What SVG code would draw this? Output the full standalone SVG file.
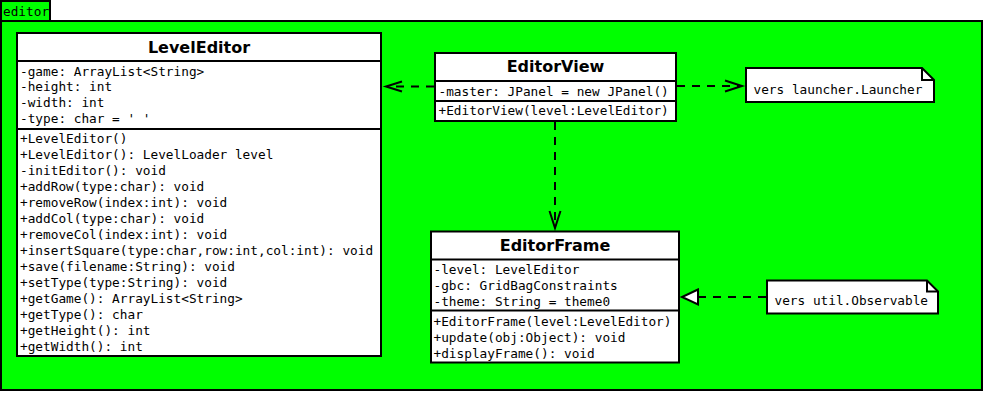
<svg xmlns="http://www.w3.org/2000/svg" width="985" height="393" viewBox="0 0 985 393">
  <style>
    .pkg { fill: #00ff00; stroke: #000; stroke-width: 2; }
    .box { fill: #fff; stroke: #000; stroke-width: 2; }
    .sep { stroke: #000; stroke-width: 2; }
    .title { font-family: "DejaVu Sans", "Liberation Sans", sans-serif; font-weight: bold; font-size: 16px; text-anchor: middle; fill: #000; }
    .mem { font-family: "DejaVu Sans Mono", "Liberation Mono", monospace; font-size: 12.75px; fill: #000; }
    .dash { fill: none; stroke: #000; stroke-width: 2; stroke-dasharray: 8 7; }
    .head { fill: none; stroke: #000; stroke-width: 2; stroke-linejoin: miter; }
    .tri { fill: #fff; stroke: #000; stroke-width: 2; }
  </style>

  <!-- package "editor" -->
  <g id="pkg-editor">
    <rect class="pkg" x="1" y="1" width="49" height="20"/>
    <text class="mem" x="3" y="16" font-size="12.5">editor</text>
    <rect class="pkg" x="1" y="21" width="981" height="369"/>
  </g>

  <!-- class LevelEditor -->
  <g id="LevelEditor">
    <rect class="box" x="17" y="33" width="364" height="323"/>
    <line class="sep" x1="17" y1="61" x2="381" y2="61"/>
    <line class="sep" x1="17" y1="129" x2="381" y2="129"/>
    <text class="title" x="199" y="52.5">LevelEditor</text>
    <text class="mem" x="20" y="75.5">-game: ArrayList&lt;String&gt;</text>
    <text class="mem" x="20" y="91.2">-height: int</text>
    <text class="mem" x="20" y="106.9">-width: int</text>
    <text class="mem" x="20" y="122.7">-type: char = ' '</text>
    <text class="mem" x="20" y="142.8">+LevelEditor()</text>
    <text class="mem" x="20" y="158.8">+LevelEditor(): LevelLoader level</text>
    <text class="mem" x="20" y="174.8">-initEditor(): void</text>
    <text class="mem" x="20" y="190.8">+addRow(type:char): void</text>
    <text class="mem" x="20" y="206.8">+removeRow(index:int): void</text>
    <text class="mem" x="20" y="222.8">+addCol(type:char): void</text>
    <text class="mem" x="20" y="238.8">+removeCol(index:int): void</text>
    <text class="mem" x="20" y="254.8">+insertSquare(type:char,row:int,col:int): void</text>
    <text class="mem" x="20" y="270.8">+save(filename:String): void</text>
    <text class="mem" x="20" y="286.8">+setType(type:String): void</text>
    <text class="mem" x="20" y="302.8">+getGame(): ArrayList&lt;String&gt;</text>
    <text class="mem" x="20" y="318.8">+getType(): char</text>
    <text class="mem" x="20" y="334.8">+getHeight(): int</text>
    <text class="mem" x="20" y="350.8">+getWidth(): int</text>
  </g>

  <!-- class EditorView -->
  <g id="EditorView">
    <rect class="box" x="435" y="53" width="241" height="68"/>
    <line class="sep" x1="435" y1="81" x2="676" y2="81"/>
    <line class="sep" x1="435" y1="101" x2="676" y2="101"/>
    <text class="title" x="555.5" y="72">EditorView</text>
    <text class="mem" x="438.5" y="95.5">-master: JPanel = new JPanel()</text>
    <text class="mem" x="438.5" y="115.2">+EditorView(level:LevelEditor)</text>
  </g>

  <!-- class EditorFrame -->
  <g id="EditorFrame">
    <rect class="box" x="431" y="231.5" width="248" height="131"/>
    <line class="sep" x1="431" y1="259.5" x2="679" y2="259.5"/>
    <line class="sep" x1="431" y1="310.5" x2="679" y2="310.5"/>
    <text class="title" x="555" y="250.8">EditorFrame</text>
    <text class="mem" x="433.5" y="273.8">-level: LevelEditor</text>
    <text class="mem" x="433.5" y="289.6">-gbc: GridBagConstraints</text>
    <text class="mem" x="433.5" y="305.6">-theme: String = theme0</text>
    <text class="mem" x="433.5" y="326.2">+EditorFrame(level:LevelEditor)</text>
    <text class="mem" x="433.5" y="342.2">+update(obj:Object): void</text>
    <text class="mem" x="433.5" y="358.2">+displayFrame(): void</text>
  </g>

  <!-- note: launcher -->
  <g id="note-launcher">
    <path class="box" d="M746,68 H922 L934,80 V102 H746 Z"/>
    <path class="head" d="M922,68 V80 H934"/>
    <text class="mem" x="753.5" y="93.5">vers launcher.Launcher</text>
  </g>

  <!-- note: observable -->
  <g id="note-observable">
    <path class="box" d="M767,280.5 H927 L938,291.5 V313.5 H767 Z"/>
    <path class="head" d="M927,280.5 V291.5 H938"/>
    <text class="mem" x="774.5" y="305.2">vers util.Observable</text>
  </g>

  <!-- connectors -->
  <g id="connectors">
    <!-- EditorView uses LevelEditor -->
    <line class="dash" x1="434" y1="86.5" x2="387" y2="86.5"/>
    <path class="head" d="M402,81.5 L386,86.5 L402,91.5"/>
    <!-- EditorView to launcher -->
    <line class="dash" x1="677" y1="86" x2="741" y2="86"/>
    <path class="head" d="M725,80.5 L742,86 L725,91.5"/>
    <!-- EditorView to EditorFrame -->
    <line class="dash" x1="555" y1="122" x2="555" y2="227"/>
    <path class="head" d="M549.5,211 L555,228 L560.5,211"/>
    <!-- EditorFrame realizes Observable -->
    <line class="dash" x1="766" y1="297" x2="699" y2="297"/>
    <path class="tri" d="M698,289.5 L682,297 L698,304.5 Z"/>
  </g>
</svg>
